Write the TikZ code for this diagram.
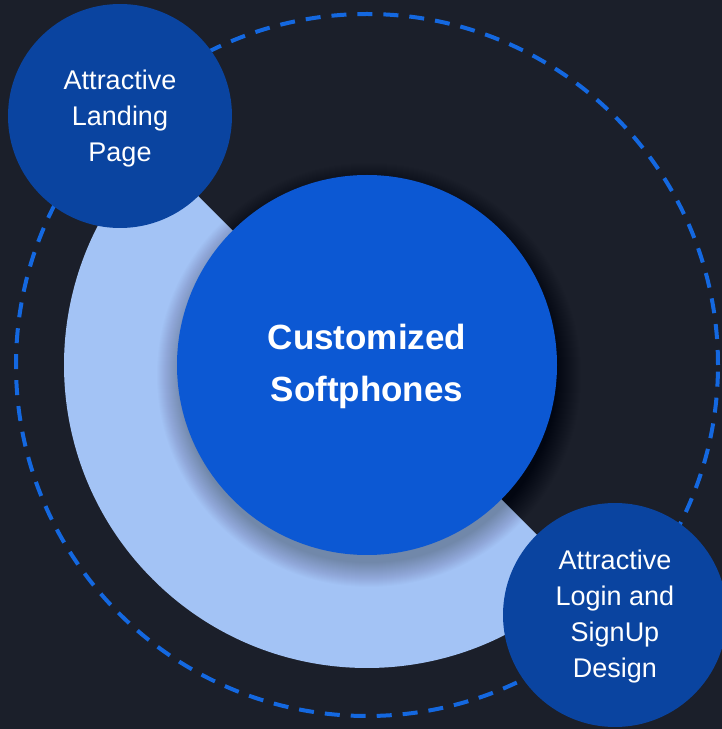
\documentclass[tikz,border=0pt]{standalone}
\usepackage{fontspec}
\setmainfont{Liberation Sans}
\definecolor{bgc}{HTML}{1B1F2A}
\definecolor{dashc}{HTML}{1468E0}
\definecolor{ringc}{HTML}{A3C3F5}
\definecolor{mainc}{HTML}{0C58D3}
\definecolor{smallc}{HTML}{0A44A0}
\tikzset{
  smallcircle/.style={circle, fill=smallc, minimum size=224pt, inner sep=0pt},
  smalltext/.style={text=white, align=center, inner sep=0pt, font=\fontsize{27}{36}\selectfont},
  maincircle/.style={circle, fill=mainc, minimum size=380pt, inner sep=0pt},
  maintext/.style={text=white, align=center, inner sep=0pt, font=\bfseries\fontsize{35}{52}\selectfont},
  dashring/.style={draw=dashc, line width=4pt, dash pattern=on 15pt off 11pt}
}
\begin{document}
\begin{tikzpicture}[x=1pt,y=1pt]
\useasboundingbox (0,0) rectangle (722,729);
\clip (0,0) rectangle (722,729);
\fill[bgc] (0,0) rectangle (722,729);
\coordinate (c) at (367,364);
\draw[dashring] (c) circle[radius=351];
\fill[ringc] (c) ++(135:303) arc[start angle=135, end angle=315, radius=303] -- cycle;
\foreach \r in {212,211,...,188}{
  \fill[black, opacity=0.012] ([xshift=2pt,yshift=-10pt]c) circle[radius=\r];
}
\node[maincircle] (main) at (c) {};
\node[maintext] (maint) at ([yshift=-1pt]main.center) {Customized\\Softphones};
\node[smallcircle] (landing) at (120,613) {};
\node[smalltext] (landingt) at ([yshift=-3pt]landing.center) {Attractive\\Landing\\Page};
\node[smallcircle] (login) at (615,114) {};
\node[smalltext] (logint) at ([yshift=-2pt]login.center) {Attractive\\Login and\\SignUp\\Design};
\end{tikzpicture}
\end{document}
